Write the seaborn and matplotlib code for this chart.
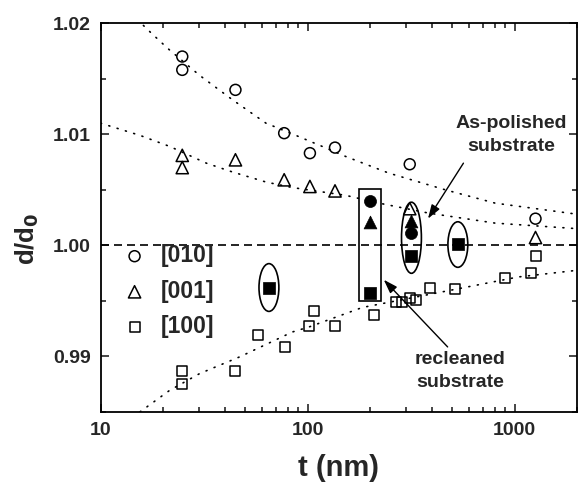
import numpy as np
import pandas as pd
import matplotlib
matplotlib.use("Agg")
import matplotlib.pyplot as plt
import seaborn as sns
from matplotlib.patches import Ellipse, Rectangle
from matplotlib.ticker import MultipleLocator, LogLocator, FuncFormatter, NullFormatter

# %% data
# open symbols
t_010 = [24.8, 24.8, 44.8, 77, 102.5, 135.5, 311, 1259]
d_010 = [1.0170, 1.0158, 1.0140, 1.0101, 1.0083, 1.0088, 1.0073, 1.0024]
t_001 = [24.8, 24.8, 44.8, 77, 102.5, 135.5, 311, 1259]
d_001 = [1.0081, 1.0070, 1.0077, 1.0059, 1.0053, 1.0049, 1.0033, 1.0007]
t_100 = [24.8, 24.8, 44.8, 57.8, 77.7, 101.6, 107.4, 135.5, 209, 267, 286,
         311, 335, 388, 515, 897, 1197, 1260]
d_100 = [0.9887, 0.9875, 0.9887, 0.9919, 0.9908, 0.9927, 0.9941, 0.9927,
         0.9937, 0.9949, 0.9949, 0.9953, 0.9951, 0.9962, 0.9961, 0.9971,
         0.9975, 0.9990]

# filled symbols (recleaned / as-polished)
t_fill_010 = [199, 317]
d_fill_010 = [1.0040, 1.0011]
t_fill_001 = [199, 317]
d_fill_001 = [1.0021, 1.0022]
t_fill_100 = [65, 199, 317, 531]
d_fill_100 = [0.9962, 0.9957, 0.9990, 1.0001]

# dotted guide curves
fit_010_t = [16.1, 17.6, 21.2, 30.1, 43.4, 62.9, 87.7, 117.8, 152.6, 246.7, 461.7, 803, 2000]
fit_010_d = [1.0198, 1.0191, 1.0177, 1.0153, 1.0131, 1.0110, 1.0099, 1.0089,
             1.0080, 1.0065, 1.0050, 1.0038, 1.0028]
fit_001_t = [10, 15.5, 21.6, 32.4, 43.4, 62.9, 84.5, 152.6, 221, 384, 803, 2000]
fit_001_d = [1.0110, 1.0099, 1.0089, 1.0074, 1.0066, 1.0057, 1.0052, 1.0045,
             1.0038, 1.0029, 1.0020, 1.0015]
fit_100_t = [15.5, 21.6, 30.1, 46.9, 84.5, 101.6, 183.4, 461.7, 1039, 2000]
fit_100_d = [0.9850, 0.98695, 0.98845, 0.98995, 0.9922, 0.99265, 0.9944,
             0.99586, 0.99715, 0.99775]

series_labels = ["[010]", "[001]", "[100]"]

# %% style
sns.set_style("ticks")
plt.rcParams['font.family'] = ['Liberation Sans', 'DejaVu Sans']
plt.rcParams['font.weight'] = 'bold'
plt.rcParams['mathtext.default'] = 'bf'

fig = plt.figure(figsize=(5.78, 4.84), dpi=100)
ax = fig.add_axes([0.174, 0.149, 0.8245, 0.803])
ax.set_xscale('log')
ax.set_xlim(10, 2000)
ax.set_ylim(0.985, 1.02)

# guide lines
dots = (0, (0.6, 4.6))
for ft, fd in [(fit_010_t, fit_010_d), (fit_001_t, fit_001_d), (fit_100_t, fit_100_d)]:
    sns.lineplot(x=ft, y=fd, color='black', linestyle=dots, linewidth=1.2,
                 sort=False, ax=ax, dash_capstyle='round')
ax.axhline(1.0, color='black', linestyle=(0, (4.8, 3.0)), linewidth=1.2)

# open symbols
open_kw = dict(facecolor='none', edgecolor='black', color='black', linewidth=1.1, ax=ax, zorder=3)
sns.scatterplot(x=t_010, y=d_010, marker='o', s=62, label=series_labels[0], **open_kw)
sns.scatterplot(x=t_001, y=d_001, marker='^', s=78, label=series_labels[1], **open_kw)
sns.scatterplot(x=t_100, y=d_100, marker='s', s=52, label=series_labels[2], **open_kw)

# filled symbols
fill_kw = dict(color='black', edgecolor='black', linewidth=0.5, ax=ax, zorder=4)
sns.scatterplot(x=t_fill_010, y=d_fill_010, marker='o', s=75, **fill_kw)
sns.scatterplot(x=t_fill_001, y=d_fill_001, marker='^', s=85, **fill_kw)
sns.scatterplot(x=t_fill_100, y=d_fill_100, marker='s', s=65, **fill_kw)

# ellipses and box drawn in (log10 t, d) space
tr = ax.transLimits + ax.transAxes
for xc, yc, h in [(65, 0.9962, 0.0043), (317, 1.00068, 0.0064), (531, 1.00007, 0.0041)]:
    ax.add_patch(Ellipse((np.log10(xc), yc), 0.096, h, transform=tr,
                         fill=False, edgecolor='black', linewidth=1.2, zorder=5))
ax.add_patch(Rectangle((np.log10(176), 0.99496), np.log10(225) - np.log10(176), 0.01008,
                       transform=tr, fill=False, edgecolor='black', linewidth=1.2, zorder=5))

# annotations
arrow = dict(arrowstyle='-|>,head_length=0.6,head_width=0.2', color='black',
             linewidth=1.0, mutation_scale=14, shrinkA=0, shrinkB=0)
ax.annotate('', xy=(381, 1.0024), xytext=(565, 1.0074), arrowprops=arrow)
ax.annotate('', xy=(233, 0.9969), xytext=(474, 0.99085), arrowprops=arrow)
ax.text(965, 1.0099, 'As-polished\nsubstrate', ha='center', va='center',
        fontsize=14, fontweight='bold', linespacing=1.45)
ax.text(545, 0.98868, 'recleaned\nsubstrate', ha='center', va='center',
        fontsize=14, fontweight='bold', linespacing=1.45)

# axes
ax.xaxis.set_major_locator(LogLocator(base=10))
ax.xaxis.set_major_formatter(FuncFormatter(lambda v, p: f"{v:g}"))
ax.xaxis.set_minor_locator(LogLocator(base=10, subs=np.arange(2, 10)))
ax.xaxis.set_minor_formatter(NullFormatter())
ax.yaxis.set_major_locator(MultipleLocator(0.01))
ax.yaxis.set_minor_locator(MultipleLocator(0.005))
ax.yaxis.set_major_formatter(FuncFormatter(lambda v, p: f"{v:.2f}"))
ax.tick_params(which='both', direction='in', top=True, right=True, width=1.2)
ax.tick_params(which='major', length=6, labelsize=14, pad=7)
ax.tick_params(which='minor', length=3.5)
for sp in ax.spines.values():
    sp.set_linewidth(1.3)
    sp.set_color('black')

ax.set_xlabel('t (nm)', fontsize=21, fontweight='bold', va='center')
ax.xaxis.set_label_coords(0.5, -0.145)
ax.set_ylabel('d/d$_0$', fontsize=18.5, fontweight='bold', va='center')
ax.yaxis.set_label_coords(-0.153, 0.445)

ax.legend(loc='upper left', bbox_to_anchor=(0.004, 0.455), frameon=False,
          fontsize=16.5, handletextpad=0.15, labelspacing=0.55, markerscale=1.0,
          borderaxespad=0)

fig.savefig("out.png", dpi=100)
